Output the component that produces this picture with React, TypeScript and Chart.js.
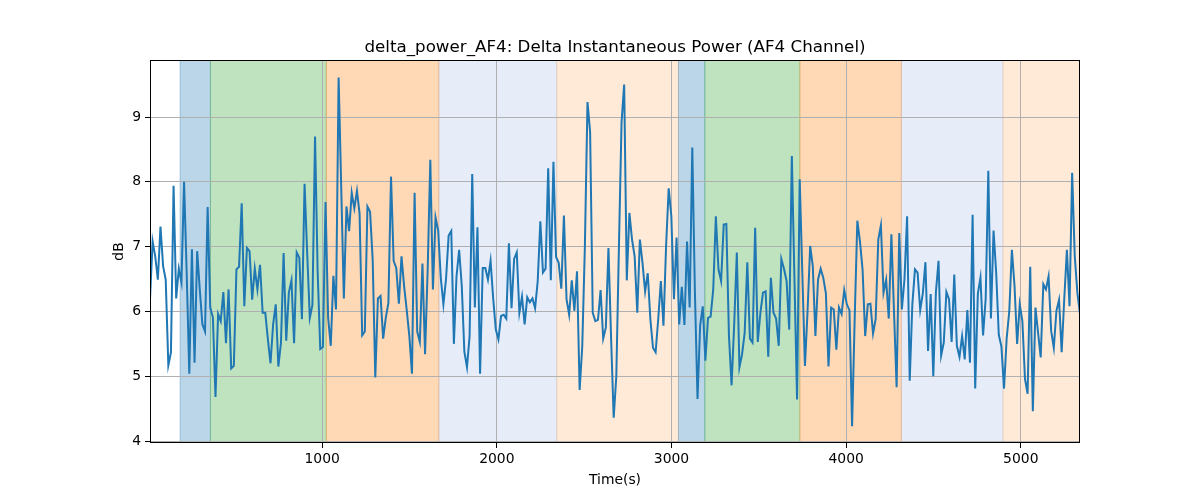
import { useEffect, useRef } from 'react';
import { Chart, registerables } from 'chart.js';

Chart.register(...registerables);

const TITLE = 'delta_power_AF4: Delta Instantaneous Power (AF4 Channel)';
const X_LABEL = 'Time(s)';
const Y_LABEL = 'dB';

// sampling of the recording (seconds)
const T_START = 14;
const T_STEP = 15;

// delta power, dB, one value per sample
const POWER_DB = [
    6.19, 7.08, 6.85, 6.49, 7.31, 6.70, 6.49, 5.17, 5.37, 7.94,
    6.20, 6.66, 6.45, 8.00, 6.60, 5.04, 6.96, 5.21, 6.93, 6.34,
    5.80, 5.69, 7.61, 6.06, 5.91, 4.68, 5.96, 5.85, 6.30, 5.51,
    6.34, 5.12, 5.16, 6.65, 6.69, 7.67, 6.08, 6.98, 6.93, 6.18,
    6.66, 6.34, 6.72, 5.98, 5.98, 5.57, 5.20, 5.80, 6.11, 5.15,
    5.52, 6.90, 5.55, 6.29, 6.48, 5.51, 6.91, 6.83, 5.88, 7.97,
    // 1000 - 1700
    6.90, 5.90, 6.10, 8.70, 6.60, 5.42, 5.45, 7.69, 5.90, 5.47,
    6.55, 6.03, 9.61, 7.90, 6.20, 7.62, 7.24, 7.83, 7.59, 7.86,
    7.51, 5.63, 5.69, 7.62, 7.54, 6.80, 4.98, 6.20, 6.24, 5.58,
    5.90, 6.13, 8.08, 6.78, 6.67, 6.12, 6.85, 6.39, 6.02, 5.62,
    5.04, 7.83, 5.69, 5.53, 6.74, 5.34, 6.66, 8.34, 6.34, 7.45,
    7.25, 6.52, 6.11, 6.50, 7.17, 7.24, 5.50, 6.54, 6.95,
    // 1900 - 2600
    6.40, 5.38, 5.14, 5.62, 8.12, 6.06, 7.30, 5.04, 6.67, 6.67,
    6.49, 6.78, 6.20, 5.72, 5.57, 5.93, 5.95, 5.89, 7.05, 6.05,
    6.81, 6.91, 5.98, 6.23, 5.80, 6.22, 6.14, 6.20, 6.05, 6.47,
    7.39, 6.60, 6.66, 8.21, 6.48, 8.31, 6.84, 6.75, 6.35, 7.48,
    6.19, 5.95, 6.48, 6.01, 6.62, 4.79, 5.46, 7.00, 9.23, 8.77,
    5.98, 5.85, 5.87, 6.33, 5.58, 5.75, 6.98,
    // 2600 - 3500
    5.60, 4.36, 5.00, 7.00, 8.92, 9.50, 6.48, 7.52, 7.11, 6.85,
    5.98, 7.11, 6.75, 6.31, 6.59, 5.88, 5.44, 5.37, 5.88, 6.47,
    5.78, 7.01, 7.90, 7.47, 6.19, 7.14, 5.80, 6.38, 5.79, 7.08,
    6.06, 8.53, 6.30, 4.65, 5.78, 6.08, 5.24, 5.90, 5.92, 6.34,
    7.47, 6.65, 6.47, 7.34, 7.35, 5.62, 4.86, 5.80, 6.91, 5.14,
    5.34, 5.67, 6.76, 5.58, 5.52, 7.29, 5.53, 5.98, 6.29,
    // 3500 - 4400
    6.31, 5.30, 6.52, 5.98, 5.89, 5.47, 6.81, 6.66, 6.47, 5.72,
    8.40, 6.50, 4.64, 8.04, 6.60, 5.16, 6.00, 7.01, 6.70, 5.62,
    6.49, 6.66, 6.52, 6.28, 5.15, 6.06, 6.03, 5.41, 6.06, 5.96,
    6.33, 6.11, 6.02, 4.23, 5.90, 7.40, 7.08, 6.65, 5.62, 6.11,
    6.12, 5.66, 5.88, 7.11, 7.33, 6.29, 6.49, 5.89, 7.19, 6.00,
    4.83, 7.21, 6.03, 6.50, 7.47, 4.93, 6.11, 6.65,
    // 4400 - end
    6.60, 6.02, 6.28, 6.76, 5.39, 6.27, 5.00, 6.30, 6.78, 5.32,
    5.52, 6.30, 6.19, 5.53, 6.57, 5.47, 5.30, 5.62, 5.26, 6.02,
    5.21, 7.49, 4.81, 6.27, 6.52, 5.63, 6.20, 8.17, 5.89, 7.25,
    6.60, 5.64, 5.46, 4.81, 5.58, 6.00, 6.95, 6.40, 5.50, 6.11,
    5.85, 4.96, 4.73, 6.69, 4.46, 6.06, 5.67, 5.29, 6.42, 6.34,
    6.54, 5.70, 5.44, 6.01, 6.18, 5.37, 6.20, 6.95, 6.08, 8.14,
    6.85, 6.29, 5.96,
];

const TIMES = POWER_DB.map((_, i) => T_START + i * T_STEP);

const X_TICKS = [1000, 2000, 3000, 4000, 5000];
const Y_TICKS = [4, 5, 6, 7, 8, 9];
const Y_MIN = 3.97;
const Y_MAX = 9.88;

// shaded stages
const SPAN_START = [186, 360, 1023, 1668, 2343, 3040, 3191, 3735, 4316, 4898];
const SPAN_END = [360, 1023, 1668, 2343, 3040, 3191, 3735, 4316, 4898, 5400];
const SPAN_COLORS = [
    'rgba(31, 119, 180, 0.3)',
    'rgba(44, 160, 44, 0.3)',
    'rgba(255, 127, 14, 0.3)',
    'rgba(80, 130, 210, 0.14)',
    'rgba(255, 127, 14, 0.16)',
    'rgba(31, 119, 180, 0.3)',
    'rgba(44, 160, 44, 0.3)',
    'rgba(255, 127, 14, 0.3)',
    'rgba(80, 130, 210, 0.14)',
    'rgba(255, 127, 14, 0.16)',
];

const FONT = 'DejaVu Sans';

const decorPlugin = {
    id: 'decor',
    beforeDraw(chart: Chart) {
        const { ctx, chartArea, scales } = chart;
        const xs = scales.x;
        ctx.save();
        ctx.beginPath();
        ctx.rect(chartArea.left, chartArea.top, chartArea.right - chartArea.left, chartArea.bottom - chartArea.top);
        ctx.clip();
        SPAN_START.forEach((s, i) => {
            const x0 = xs.getPixelForValue(s);
            const x1 = xs.getPixelForValue(SPAN_END[i]);
            ctx.fillStyle = SPAN_COLORS[i];
            ctx.fillRect(x0, chartArea.top, x1 - x0, chartArea.bottom - chartArea.top);
            ctx.strokeStyle = SPAN_COLORS[i];
            ctx.lineWidth = 1;
            ctx.beginPath();
            ctx.moveTo(x0, chartArea.top);
            ctx.lineTo(x0, chartArea.bottom);
            ctx.moveTo(x1, chartArea.top);
            ctx.lineTo(x1, chartArea.bottom);
            ctx.stroke();
        });
        ctx.restore();
    },
    afterDraw(chart: Chart) {
        const { ctx, chartArea } = chart;
        ctx.save();
        // frame
        ctx.strokeStyle = '#000';
        ctx.lineWidth = 1;
        ctx.strokeRect(chartArea.left + 0.5, chartArea.top + 0.5, chartArea.right - chartArea.left - 1, chartArea.bottom - chartArea.top - 1);

        ctx.fillStyle = '#000';
        ctx.textAlign = 'center';
        ctx.font = `16.7px "${FONT}"`;
        ctx.textBaseline = 'alphabetic';
        ctx.fillText(TITLE, (chartArea.left + chartArea.right) / 2, 52);

        ctx.font = `13.9px "${FONT}"`;
        ctx.textBaseline = 'top';
        ctx.fillText(X_LABEL, (chartArea.left + chartArea.right) / 2, 473);

        ctx.translate(119, (chartArea.top + chartArea.bottom) / 2);
        ctx.rotate(-Math.PI / 2);
        ctx.textBaseline = 'middle';
        ctx.fillText(Y_LABEL, 0, 0);
        ctx.restore();
    },
};

const DeltaPowerChart = () => {
    const canvasRef = useRef<HTMLCanvasElement | null>(null);

    useEffect(() => {
        const ctx = canvasRef.current?.getContext('2d');
        if (!ctx) return;

        const chart = new Chart(ctx, {
            type: 'line',
            data: {
                datasets: [
                    {
                        label: 'delta_power_AF4',
                        data: TIMES.map((t, i) => ({ x: t, y: POWER_DB[i] })),
                        borderColor: '#1f77b4',
                        borderWidth: 2,
                        pointRadius: 0,
                        tension: 0,
                        fill: false,
                    },
                ],
            },
            options: {
                animation: false,
                responsive: false,
                devicePixelRatio: 1,
                layout: { padding: { top: 60, right: 120, left: 0, bottom: 0 } },
                plugins: {
                    legend: { display: false },
                    title: { display: false },
                    tooltip: { enabled: false },
                },
                scales: {
                    x: {
                        type: 'linear',
                        min: TIMES[0],
                        max: TIMES[TIMES.length - 1],
                        afterBuildTicks: (axis: any) => {
                            axis.ticks = X_TICKS.map((v) => ({ value: v }));
                        },
                        afterFit: (axis: any) => {
                            axis.height = 57;
                        },
                        border: { display: false },
                        grid: { color: '#b0b0b0', lineWidth: 1, tickColor: '#000', tickLength: 5, drawTicks: true },
                        ticks: {
                            color: '#000',
                            padding: 3,
                            maxRotation: 0,
                            font: { family: FONT, size: 13.9 },
                            callback: (v: any) => String(v),
                        },
                    },
                    y: {
                        type: 'linear',
                        min: Y_MIN,
                        max: Y_MAX,
                        afterBuildTicks: (axis: any) => {
                            axis.ticks = Y_TICKS.map((v) => ({ value: v }));
                        },
                        afterFit: (axis: any) => {
                            axis.width = 150;
                        },
                        border: { display: false },
                        grid: { color: '#b0b0b0', lineWidth: 1, tickColor: '#000', tickLength: 5, drawTicks: true },
                        ticks: {
                            color: '#000',
                            padding: 4,
                            font: { family: FONT, size: 13.9 },
                            callback: (v: any) => String(v),
                        },
                    },
                },
            },
            plugins: [decorPlugin],
        });

        return () => {
            chart.destroy();
        };
    }, []);

    return (
        <div style={{ position: 'absolute', left: 0, top: 0, width: 1200, height: 500, background: '#fff' }}>
            <canvas ref={canvasRef} width={1200} height={500} style={{ width: 1200, height: 500 }} />
        </div>
    );
};

export default function App() {
    return <DeltaPowerChart />;
}
